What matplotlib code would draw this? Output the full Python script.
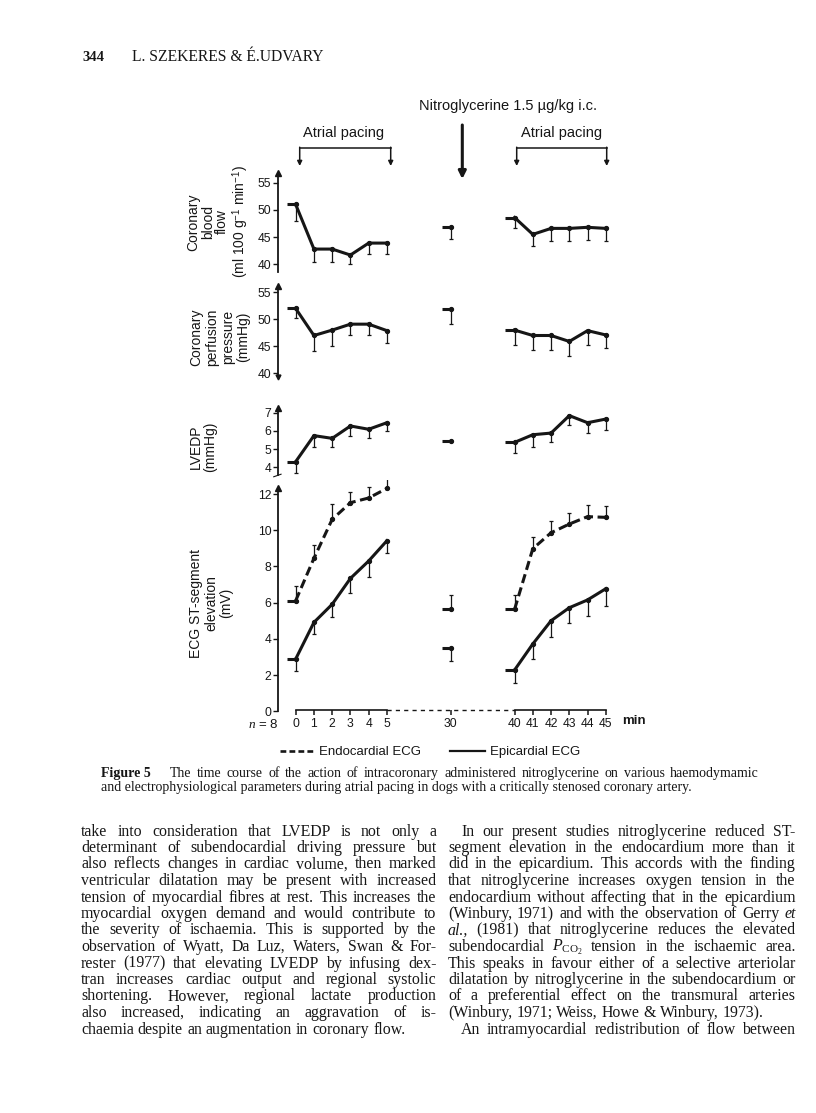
import matplotlib
matplotlib.use('Agg')
import matplotlib.pyplot as plt
from matplotlib.lines import Line2D

W, H, DPI = 816, 1113, 100
INK = '#161616'

plt.rcParams.update({
    'font.family': ['Liberation Sans', 'DejaVu Sans'],
    'mathtext.fontset': 'custom',
    'mathtext.rm': 'Liberation Serif',
    'mathtext.it': 'Liberation Serif:italic',
    'mathtext.sf': 'Liberation Sans',
    'text.color': INK,
    'axes.edgecolor': INK,
    'xtick.color': INK, 'ytick.color': INK,
    'xtick.labelcolor': INK, 'ytick.labelcolor': INK,
})

# ---------------- data ----------------
time_labels = ['0', '1', '2', '3', '4', '5', '30', '40', '41', '42', '43', '44', '45']

flow     = [51.0, 42.8, 42.8, 41.7, 43.9, 43.9, 46.8, 48.6, 45.5, 46.6, 46.6, 46.8, 46.6]
flow_err = [3.0, 2.3, 2.3, 1.7, 2.0, 2.0, 2.2, 2.0, 2.1, 2.3, 2.3, 2.3, 2.3]

perf     = [52.0, 47.0, 48.0, 49.1, 49.1, 47.9, 51.9, 48.0, 47.0, 47.0, 45.9, 47.9, 47.1]
perf_err = [1.8, 2.9, 2.9, 2.0, 2.0, 2.3, 2.8, 2.8, 2.7, 2.7, 2.7, 2.7, 2.5]

lvedp     = [4.31, 5.74, 5.59, 6.27, 6.09, 6.45, 5.46, 5.37, 5.79, 5.88, 6.84, 6.45, 6.65]
lvedp_err = [0.6, 0.6, 0.5, 0.53, 0.5, 0.45, 0.0, 0.6, 0.7, 0.5, 0.5, 0.55, 0.6]

endo     = [6.11, 8.45, 10.6, 11.52, 11.78, 12.31, 5.63, 5.63, 8.98, 9.86, 10.34, 10.75, 10.71]
endo_err = [0.83, 0.73, 0.83, 0.6, 0.6, 0.7, 0.78, 0.77, 0.63, 0.64, 0.63, 0.64, 0.63]

epi     = [2.89, 4.91, 5.91, 7.34, 8.30, 9.42, 3.48, 2.28, 3.72, 5.00, 5.72, 6.15, 6.77]
epi_err = [0.65, 0.66, 0.72, 0.82, 0.87, 0.70, 0.69, 0.73, 0.83, 0.91, 0.86, 0.87, 0.95]

flow_ticks = [40, 45, 50, 55]
perf_ticks = [40, 45, 50, 55]
lvedp_ticks = [4, 5, 6, 7]
ecg_ticks = [0, 2, 4, 6, 8, 10, 12]

# ---------------- layout of the broken time axis ----------------
x_pos = [0, 1, 2, 3, 4, 5, 8.5, 12, 13, 14, 15, 16, 17]
groups = [(0, 6), (6, 7), (7, 13)]

fig = plt.figure(figsize=(W / DPI, H / DPI), dpi=DPI)
fig.patch.set_facecolor('white')

X0_PX, UNIT_PX = 295.7, 18.24
XL, XR = 250, 650
YAX_PX = 278.3


def px2u(px):
    return (px - X0_PX) / UNIT_PX


def make_panel(top, bottom, v1, p1, v2, p2, spine_lo, spine_hi, ticks):
    ax = fig.add_axes([XL / W, 1 - bottom / H, (XR - XL) / W, (bottom - top) / H])
    s = (p2 - p1) / (v1 - v2)
    ax.set_ylim(v2 - (bottom - p2) / s, v1 + (p1 - top) / s)
    ax.set_xlim(px2u(XL), px2u(XR))
    ax.patch.set_alpha(0)
    for sp in ['top', 'right']:
        ax.spines[sp].set_visible(False)
    ax.spines['left'].set_position(('data', px2u(YAX_PX)))
    ax.spines['left'].set_bounds(spine_lo, spine_hi)
    ax.spines['left'].set_linewidth(1.3)
    ax.set_yticks(ticks)
    ax.tick_params(axis='y', direction='out', length=3.5, width=1.0, pad=1.5, labelsize=8.7)
    ax.plot([px2u(YAX_PX)], [spine_hi], marker='^', ms=4, color=INK, clip_on=False)
    return ax


def draw_series(ax, vals, errs, down=True, dashed=False):
    for a, b in groups:
        xs = x_pos[a:b]
        ys = vals[a:b]
        es = errs[a:b]
        ax.plot([xs[0] - 0.5, xs[0]], [ys[0], ys[0]], color=INK, lw=2.2,
                solid_capstyle='butt')
        ls = (0, (3.0, 1.5)) if dashed else '-'
        ax.plot(xs, ys, ls=ls, lw=2.2, color=INK, marker='o', ms=2.8,
                solid_joinstyle='round')
        zeros = [0] * len(es)
        yerr = [es, zeros] if down else [zeros, es]
        ax.errorbar(xs, ys, yerr=yerr, fmt='none', ecolor=INK, elinewidth=0.9,
                    capsize=1.6, capthick=0.9)


# panels ------------------------------------------------------------
ax1 = make_panel(165, 280, 55, 182.7, 40, 264.3, 38.6, 56.7, flow_ticks)
ax1.spines['bottom'].set_visible(False)
ax1.set_xticks([])
draw_series(ax1, flow, flow_err, down=True)

ax2 = make_panel(280, 385, 55, 292.3, 40, 373.3, 39.4, 56.2, perf_ticks)
ax2.spines['bottom'].set_visible(False)
ax2.set_xticks([])
ax2.plot([px2u(YAX_PX)], [39.4], marker='v', ms=3.5, color=INK, clip_on=False)
draw_series(ax2, perf, perf_err, down=True)

ax3 = make_panel(400, 480, 7, 412.7, 4, 467.3, 3.55, 7.26, lvedp_ticks)
ax3.spines['bottom'].set_visible(False)
ax3.set_xticks([])
ax3.plot([px2u(YAX_PX) - 0.25, px2u(YAX_PX) + 0.15], [3.48, 3.62], color=INK, lw=0.8,
         clip_on=False)
draw_series(ax3, lvedp, lvedp_err, down=True)

ax4 = make_panel(480, 740, 12, 494, 0, 711.3, 0, 12.35, ecg_ticks)
ax4.spines['bottom'].set_position(('data', 0.05))
ax4.spines['bottom'].set_linewidth(0)
ax4.set_xticks(x_pos, time_labels)
ax4.tick_params(axis='x', direction='out', length=3.5, width=1.1, pad=1.8, labelsize=8.7)
# time axis line: solid for pacing periods, dashed for the gap
ax4.plot([x_pos[0], x_pos[5]], [0.05, 0.05], color=INK, lw=1.2, clip_on=False)
ax4.plot([x_pos[5], x_pos[7]], [0.05, 0.05], color=INK, lw=1.0, ls=(0, (3, 3)), clip_on=False)
ax4.plot([x_pos[7], x_pos[12]], [0.05, 0.05], color=INK, lw=1.2, clip_on=False)
draw_series(ax4, endo, endo_err, down=False, dashed=True)
draw_series(ax4, epi, epi_err, down=True, dashed=False)

# ---------------- overlay for page text & annotations (pixel coords) ----------------
ov = fig.add_axes([0, 0, 1, 1])
ov.set_xlim(0, W)
ov.set_ylim(H, 0)
ov.axis('off')
ov.patch.set_alpha(0)

# y labels
ov.text(218.5, 222, 'Coronary\nblood\nflow\n(ml 100 g$^{\\mathsf{-1}}$ min$^{\\mathsf{-1}}$)',
        rotation=90, ha='center', va='center', multialignment='center', fontsize=10,
        linespacing=1.05)
ov.text(220, 337, 'Coronary\nperfusion\npressure\n(mmHg)', rotation=90, ha='center',
        va='center', multialignment='center', fontsize=10, linespacing=1.15)
ov.text(203, 447, 'LVEDP\n(mmHg)', rotation=90, ha='center', va='center',
        multialignment='center', fontsize=10, linespacing=1.1)
ov.text(211, 603, 'ECG ST-segment\nelevation\n(mV)', rotation=90, ha='center', va='center',
        multialignment='center', fontsize=10, linespacing=1.1)

# axis extras
ov.text(279, 724, '$n$ = 8', ha='right', va='center', fontsize=9.5)
ov.text(622, 721, 'min', ha='left', va='center', fontsize=9.5, weight='bold')

# annotations above the panels
ov.text(508, 106, 'Nitroglycerine 1.5 \u00b5g/kg i.c.', ha='center', va='center', fontsize=10.5)
ov.text(344, 133, 'Atrial pacing', ha='center', va='center', fontsize=10.5)
ov.text(561.7, 133, 'Atrial pacing', ha='center', va='center', fontsize=10.5)
for xa, xb in [(299.7, 390.7), (516.7, 606.7)]:
    ov.plot([xa, xb], [147.7, 147.7], color=INK, lw=1.1)
    for xx in (xa, xb):
        ov.annotate('', xy=(xx, 166), xytext=(xx, 147.2),
                    arrowprops=dict(arrowstyle='-|>', lw=1.1, color=INK, mutation_scale=7,
                                    shrinkA=0, shrinkB=0))
ov.annotate('', xy=(462.3, 179), xytext=(462.3, 125),
            arrowprops=dict(arrowstyle='-|>', lw=2.2, color=INK, mutation_scale=11,
                            shrinkA=0, shrinkB=0))

# legend
handles = [Line2D([], [], color=INK, lw=1.9, ls=(0, (2.2, 1.2))),
           Line2D([], [], color=INK, lw=1.6)]
fig.legend(handles, ['Endocardial ECG', 'Epicardial ECG'], loc='center',
           bbox_to_anchor=(430 / W, 1 - 752 / H), ncol=2, frameon=False, fontsize=9.5,
           handlelength=2.6, handletextpad=0.4, columnspacing=2.2)

# ---------------- page text ----------------
renderer = fig.canvas.get_renderer()
SERIF = 'Liberation Serif'


def width_of(t):
    return t.get_window_extent(renderer=renderer).width


def fit_size(s, target, **kw):
    t = ov.text(0, 0, s, fontsize=10, **kw)
    w = width_of(t)
    t.remove()
    return 10.0 * target / w


def space_w(size):
    a = ov.text(0, 0, 'x x', fontsize=size, family=SERIF)
    b = ov.text(0, 0, 'xx', fontsize=size, family=SERIF)
    w = width_of(a) - width_of(b)
    a.remove(); b.remove()
    return w


def place_line(line, x0, x1, y, size, justify=True):
    texts = []
    for tok in line.split(' '):
        style = 'normal'
        if tok.startswith('_'):
            tok = tok[1:]
            style = 'italic'
        t = ov.text(x0, y, tok, fontsize=size, family=SERIF, style=style,
                    va='baseline', ha='left')
        texts.append(t)
    widths = [width_of(t) for t in texts]
    if justify and len(texts) > 1:
        gap = (x1 - x0 - sum(widths)) / (len(texts) - 1)
    else:
        gap = space_w(size)
    x = x0
    for t, w in zip(texts, widths):
        t.set_x(x)
        x += w + gap


# header
ov.text(82, 61, '344', fontsize=10.5, family=SERIF, weight='bold', va='baseline')
hs = fit_size('L. SZEKERES & \u00c9.UDVARY', 192, family=SERIF)
ov.text(131.7, 61, 'L. SZEKERES & \u00c9.UDVARY', fontsize=hs, family=SERIF, va='baseline')

# caption
cap1 = ('The time course of the action of intracoronary administered nitroglycerine '
        'on various haemodymamic')
cap2 = ('and electrophysiological parameters during atrial pacing in dogs with a '
        'critically stenosed coronary artery.')
cs = 0.5 * (fit_size(cap2, 575, family=SERIF) + fit_size(cap1, 585, family=SERIF))
ov.text(101, 777, 'Figure 5', fontsize=cs, family=SERIF, weight='bold', va='baseline')
place_line(cap1, 170, 759, 777, cs, justify=True)
ov.text(101, 791, cap2, fontsize=cs, family=SERIF, va='baseline')

# body text
left_lines = [
    'take into consideration that LVEDP is not only a',
    'determinant of subendocardial driving pressure but',
    'also reflects changes in cardiac volume, then marked',
    'ventricular dilatation may be present with increased',
    'tension of myocardial fibres at rest. This increases the',
    'myocardial oxygen demand and would contribute to',
    'the severity of ischaemia. This is supported by the',
    'observation of Wyatt, Da Luz, Waters, Swan & For-',
    'rester (1977) that elevating LVEDP by infusing dex-',
    'tran increases cardiac output and regional systolic',
    'shortening. However, regional lactate production',
    'also increased, indicating an aggravation of is-',
    'chaemia despite an augmentation in coronary flow.',
]
right_lines = [
    'In our present studies nitroglycerine reduced ST-',
    'segment elevation in the endocardium more than it',
    'did in the epicardium. This accords with the finding',
    'that nitroglycerine increases oxygen tension in the',
    'endocardium without affecting that in the epicardium',
    '(Winbury, 1971) and with the observation of Gerry _et',
    '_al., (1981) that nitroglycerine reduces the elevated',
    'subendocardial $P_{\\mathrm{CO}_2}$ tension in the ischaemic area.',
    'This speaks in favour either of a selective arteriolar',
    'dilatation by nitroglycerine in the subendocardium or',
    'of a preferential effect on the transmural arteries',
    '(Winbury, 1971; Weiss, Howe & Winbury, 1973).',
    'An intramyocardial redistribution of flow between',
]
bs = fit_size(left_lines[-1], 324, family=SERIF)
base0, lead = 835.5, 16.5
for i, ln in enumerate(left_lines):
    place_line(ln, 81, 436.5, base0 + i * lead, bs, justify=(i != len(left_lines) - 1))
for i, ln in enumerate(right_lines):
    x0 = 461 if i in (0, 12) else 448
    place_line(ln, x0, 795.5, base0 + i * lead, bs, justify=(i != 11))

fig.savefig('out.png', dpi=DPI, facecolor='white')
